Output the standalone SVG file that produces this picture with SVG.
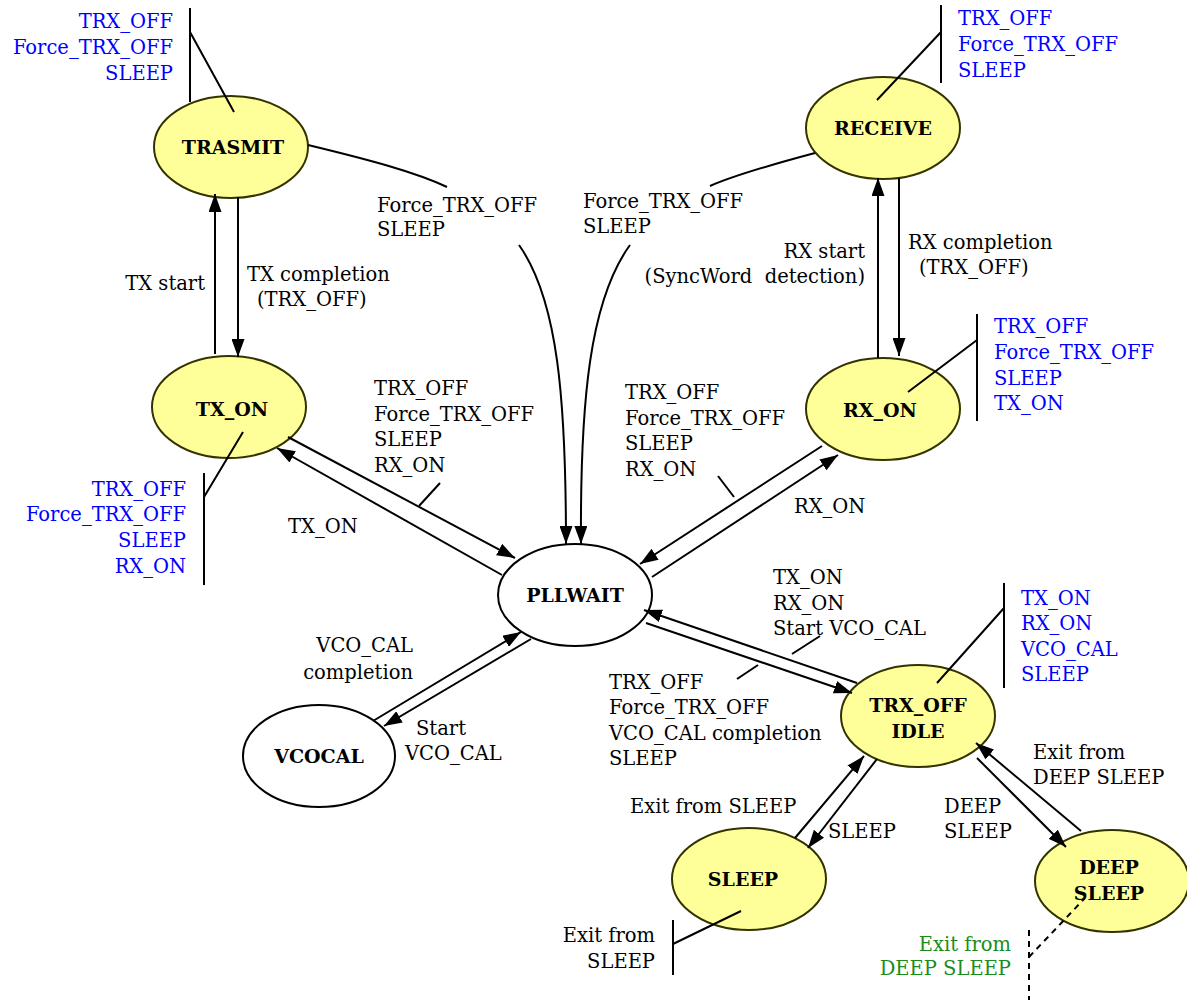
<svg xmlns="http://www.w3.org/2000/svg" width="1187" height="1000" viewBox="0 0 1187 1000">
<defs>
<marker id="ah" viewBox="0 0 18 13" refX="18" refY="6.5" markerWidth="18" markerHeight="13" markerUnits="userSpaceOnUse" orient="auto"><path d="M0,0 L18,6.5 L0,13 Z" fill="#000"/></marker>
<style>
.y{fill:#FFFF99;stroke:#333300;stroke-width:2}
.w{fill:#fff;stroke:#000;stroke-width:2}
.n{font-family:"DejaVu Serif","Liberation Serif",serif;font-size:19px;font-weight:bold;text-anchor:middle;fill:#000}
.t{font-family:"DejaVu Serif","Liberation Serif",serif;font-size:19.5px;fill:#000}
.b{fill:#0000ff}
.g{fill:#1a8c1a}
.e{text-anchor:end}
.c{fill:none;stroke:#000;stroke-width:2}
.a{marker-end:url(#ah)}
.d{stroke-dasharray:6,5}
</style>
</defs>
<g id="TRASMIT"><ellipse class="y" cx="231" cy="147" rx="77" ry="51"/><text class="n" x="233" y="154">TRASMIT</text></g>
<g id="RECEIVE"><ellipse class="y" cx="883" cy="128" rx="77" ry="51"/><text class="n" x="883" y="135">RECEIVE</text></g>
<g id="TX_ON"><ellipse class="y" cx="229" cy="407" rx="77" ry="51"/><text class="n" x="232" y="416">TX_ON</text></g>
<g id="RX_ON"><ellipse class="y" cx="883" cy="409" rx="77" ry="51"/><text class="n" x="880" y="417">RX_ON</text></g>
<g id="PLLWAIT"><ellipse class="w" cx="575" cy="595" rx="77" ry="51"/><text class="n" x="575" y="602">PLLWAIT</text></g>
<g id="VCOCAL"><ellipse class="w" cx="319" cy="756" rx="76" ry="51"/><text class="n" x="319" y="763">VCOCAL</text></g>
<g id="TRX_OFF_IDLE"><ellipse class="y" cx="918" cy="716" rx="77" ry="51"/><text class="n" x="918" y="712">TRX_OFF</text><text class="n" x="918" y="738">IDLE</text></g>
<g id="SLEEP"><ellipse class="y" cx="749" cy="879" rx="77" ry="51"/><text class="n" x="743" y="886">SLEEP</text></g>
<g id="DEEP_SLEEP"><ellipse class="y" cx="1112" cy="881" rx="77" ry="51"/><text class="n" x="1109" y="874">DEEP</text><text class="n" x="1109" y="900">SLEEP</text></g>
<g id="connectors">
<path class="c a" d="M215,354 L215,194"/>
<path class="c a" d="M238,197 L238,357"/>
<path class="c" d="M308,145 C370,160 415,172 447,187"/>
<path class="c a" d="M519,245 C558,300 566,400 566,544"/>
<path class="c" d="M815,153 C770,165 735,175 710,186"/>
<path class="c a" d="M630,245 C590,300 580,400 581,544"/>
<path class="c a" d="M878,358 L878,178"/>
<path class="c a" d="M899,178 L899,356"/>
<path class="c a" d="M288,437 L515,558"/>
<path class="c a" d="M502,575 L277,448"/>
<path class="c" d="M419,506 L440,483"/>
<path class="c a" d="M652,577 L838,455"/>
<path class="c a" d="M822,446 L640,564"/>
<path class="c" d="M718,476 L734,497"/>
<path class="c a" d="M373,721 L521,632"/>
<path class="c a" d="M531,639 L384,726"/>
<path class="c a" d="M857,683 L644,610"/>
<path class="c a" d="M646,623 L852,693"/>
<path class="c" d="M792,654 L820,636"/>
<path class="c" d="M737,679 L758,665"/>
<path class="c a" d="M795,838 L864,756"/>
<path class="c a" d="M877,759 L808,848"/>
<path class="c a" d="M1081,831 L976,743"/>
<path class="c a" d="M977,758 L1066,847"/>
<path class="c" d="M190,8 L190,102 M190,32 L234,112"/>
<path class="c" d="M941,5 L941,83 M941,32 L877,100"/>
<path class="c" d="M204,473 L204,585 M204,497 L243,432"/>
<path class="c" d="M977,314 L977,421 M977,340 L908,392"/>
<path class="c" d="M1004,583 L1004,688 M1004,608 L937,683"/>
<path class="c" d="M673,920 L673,975 M673,944 L741,911"/>
<path class="c d" d="M1029,930 L1029,1000 M1029,957 L1085,898"/>
</g>
<g id="labels">
<text class="t b e" x="173" y="28">TRX_OFF</text>
<text class="t b e" x="173" y="54">Force_TRX_OFF</text>
<text class="t b e" x="173" y="80">SLEEP</text>
<text class="t b" x="958" y="25">TRX_OFF</text>
<text class="t b" x="958" y="51">Force_TRX_OFF</text>
<text class="t b" x="958" y="77">SLEEP</text>
<text class="t" x="377" y="212">Force_TRX_OFF</text>
<text class="t" x="377" y="236">SLEEP</text>
<text class="t" x="583" y="208">Force_TRX_OFF</text>
<text class="t" x="583" y="233">SLEEP</text>
<text class="t e" x="205" y="290">TX start</text>
<text class="t" x="247" y="281">TX completion</text>
<text class="t" x="257" y="306">(TRX_OFF)</text>
<text class="t e" x="865" y="258">RX start</text>
<text class="t e" x="865" y="283" xml:space="preserve">(SyncWord  detection)</text>
<text class="t" x="908" y="249">RX completion</text>
<text class="t" x="919" y="274">(TRX_OFF)</text>
<text class="t b" x="994" y="333">TRX_OFF</text>
<text class="t b" x="994" y="359">Force_TRX_OFF</text>
<text class="t b" x="994" y="385">SLEEP</text>
<text class="t b" x="994" y="410">TX_ON</text>
<text class="t" x="374" y="395">TRX_OFF</text>
<text class="t" x="374" y="421">Force_TRX_OFF</text>
<text class="t" x="374" y="446">SLEEP</text>
<text class="t" x="374" y="472">RX_ON</text>
<text class="t" x="288" y="533">TX_ON</text>
<text class="t b e" x="186" y="496">TRX_OFF</text>
<text class="t b e" x="186" y="521">Force_TRX_OFF</text>
<text class="t b e" x="186" y="547">SLEEP</text>
<text class="t b e" x="186" y="573">RX_ON</text>
<text class="t" x="625" y="399">TRX_OFF</text>
<text class="t" x="625" y="425">Force_TRX_OFF</text>
<text class="t" x="625" y="450">SLEEP</text>
<text class="t" x="625" y="476">RX_ON</text>
<text class="t" x="794" y="513">RX_ON</text>
<text class="t" x="773" y="584">TX_ON</text>
<text class="t" x="773" y="610">RX_ON</text>
<text class="t" x="773" y="635">Start VCO_CAL</text>
<text class="t b" x="1021" y="605">TX_ON</text>
<text class="t b" x="1021" y="630">RX_ON</text>
<text class="t b" x="1021" y="656">VCO_CAL</text>
<text class="t b" x="1021" y="681">SLEEP</text>
<text class="t e" x="413" y="652">VCO_CAL</text>
<text class="t e" x="413" y="679">completion</text>
<text class="t" x="416" y="735">Start</text>
<text class="t" x="405" y="760">VCO_CAL</text>
<text class="t" x="609" y="689">TRX_OFF</text>
<text class="t" x="609" y="714">Force_TRX_OFF</text>
<text class="t" x="609" y="740">VCO_CAL completion</text>
<text class="t" x="609" y="765">SLEEP</text>
<text class="t" x="1033" y="759">Exit from</text>
<text class="t" x="1033" y="784">DEEP SLEEP</text>
<text class="t" x="630" y="813">Exit from SLEEP</text>
<text class="t" x="828" y="838">SLEEP</text>
<text class="t" x="944" y="813">DEEP</text>
<text class="t" x="944" y="838">SLEEP</text>
<text class="t e" x="655" y="942">Exit from</text>
<text class="t e" x="655" y="968">SLEEP</text>
<text class="t g e" x="1011" y="951">Exit from</text>
<text class="t g e" x="1011" y="975">DEEP SLEEP</text>
</g>
</svg>
